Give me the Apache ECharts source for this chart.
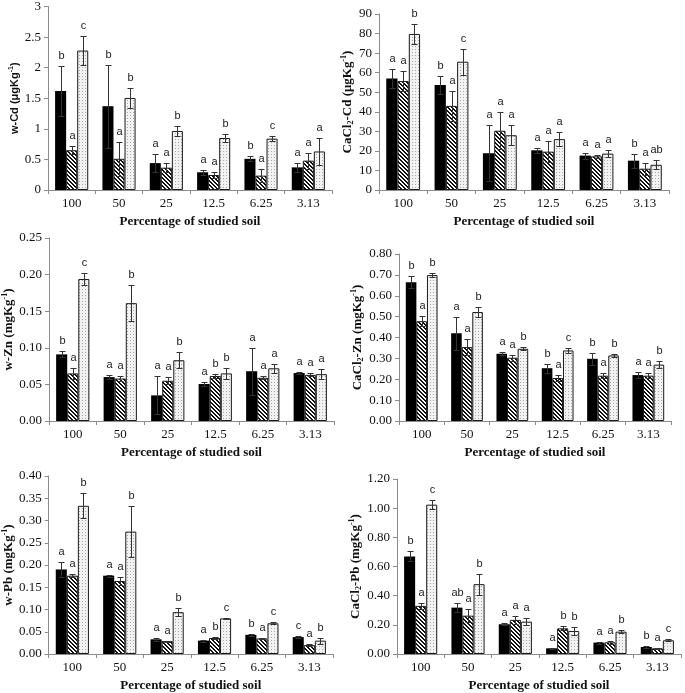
<!DOCTYPE html>
<html>
<head>
<meta charset="utf-8">
<script src="https://cdn.jsdelivr.net/npm/echarts@6/dist/echarts.min.js"></script>
<style>
html,body{margin:0;padding:0;background:#fff;}
#chart{width:685px;height:693px;}
</style>
</head>
<body>
<div id="chart"></div>
<script>
// ---------- DATA ----------
const categories = ['100', '50', '25', '12.5', '6.25', '3.13'];

// Panel 1: w-Cd (µg/kg)
const wCdA = [1.62, 1.37, 0.44, 0.29, 0.51, 0.37];
const wCdB = [0.65, 0.51, 0.365, 0.245, 0.235, 0.48];
const wCdC = [2.28, 1.505, 0.965, 0.85, 0.84, 0.63];
const wCdErrA = [0.41, 0.68, 0.15, 0.04, 0.04, 0.07];
const wCdErrB = [0.065, 0.28, 0.075, 0.05, 0.11, 0.13];
const wCdErrC = [0.23, 0.17, 0.08, 0.07, 0.045, 0.225];
const wCdLetA = ['b', 'b', 'a', 'a', 'b', 'a'];
const wCdLetB = ['a', 'a', 'a', 'a', 'a', 'a'];
const wCdLetC = ['c', 'b', 'b', 'b', 'c', 'a'];

// Panel 2: CaCl2-Cd (µg/kg)
const caCdA = [57.0, 53.7, 18.8, 20.3, 17.6, 15.0];
const caCdB = [55.7, 43.0, 30.3, 19.6, 17.2, 10.9];
const caCdC = [79.8, 65.6, 28.0, 26.0, 18.6, 12.9];
const caCdErrA = [4.8, 4.6, 14.2, 1.3, 1.5, 3.6];
const caCdErrB = [5.2, 7.8, 9.5, 5.4, 0.9, 3.0];
const caCdErrC = [5.3, 6.7, 5.0, 3.7, 1.7, 2.2];
const caCdLetA = ['a', 'b', 'a', 'a', 'a', 'b'];
const caCdLetB = ['a', 'a', 'a', 'a', 'a', 'a'];
const caCdLetC = ['b', 'c', 'a', 'a', 'a', 'ab'];

// Panel 3: w-Zn (mg/kg)
const wZnA = [0.091, 0.060, 0.035, 0.0505, 0.068, 0.0655];
const wZnB = [0.065, 0.058, 0.055, 0.0615, 0.059, 0.063];
const wZnC = [0.194, 0.161, 0.083, 0.065, 0.072, 0.064];
const wZnErrA = [0.004, 0.003, 0.026, 0.003, 0.032, 0.001];
const wZnErrB = [0.007, 0.003, 0.005, 0.003, 0.002, 0.002];
const wZnErrC = [0.008, 0.025, 0.011, 0.008, 0.0065, 0.007];
const wZnLetA = ['b', 'a', 'a', 'a', 'a', 'a'];
const wZnLetB = ['a', 'a', 'a', 'b', 'a', 'a'];
const wZnLetC = ['c', 'b', 'b', 'b', 'a', 'a'];

// Panel 4: CaCl2-Zn (mg/kg)
const caZnA = [0.665, 0.42, 0.322, 0.253, 0.298, 0.22];
const caZnB = [0.478, 0.354, 0.303, 0.206, 0.217, 0.217];
const caZnC = [0.699, 0.522, 0.346, 0.338, 0.314, 0.27];
const caZnErrA = [0.028, 0.08, 0.008, 0.021, 0.03, 0.015];
const caZnErrB = [0.025, 0.04, 0.014, 0.014, 0.013, 0.012];
const caZnErrC = [0.01, 0.026, 0.008, 0.011, 0.008, 0.016];
const caZnLetA = ['b', 'a', 'a', 'b', 'b', 'a'];
const caZnLetB = ['a', 'a', 'a', 'a', 'a', 'a'];
const caZnLetC = ['b', 'b', 'b', 'c', 'b', 'b'];

// Panel 5: w-Pb (mg/kg)
const wPbA = [0.19, 0.176, 0.033, 0.03, 0.043, 0.038];
const wPbB = [0.176, 0.164, 0.029, 0.036, 0.035, 0.02];
const wPbC = [0.333, 0.275, 0.094, 0.08, 0.069, 0.03];
const wPbErrA = [0.017, 0.002, 0.003, 0.002, 0.002, 0.002];
const wPbErrB = [0.003, 0.01, 0.001, 0.002, 0.002, 0.0015];
const wPbErrC = [0.028, 0.058, 0.009, 0.002, 0.002, 0.007];
const wPbLetA = ['a', 'a', 'a', 'a', 'b', 'c'];
const wPbLetB = ['a', 'a', 'a', 'b', 'a', 'a'];
const wPbLetC = ['b', 'b', 'b', 'c', 'c', 'b'];

// Panel 6: CaCl2-Pb (mg/kg)
const caPbA = [0.669, 0.318, 0.204, 0.039, 0.078, 0.048];
const caPbB = [0.33, 0.263, 0.234, 0.176, 0.08, 0.039];
const caPbC = [1.024, 0.479, 0.222, 0.158, 0.153, 0.094];
const caPbErrA = [0.034, 0.03, 0.006, 0.005, 0.007, 0.005];
const caPbErrB = [0.023, 0.044, 0.027, 0.014, 0.011, 0.003];
const caPbErrC = [0.03, 0.073, 0.025, 0.03, 0.012, 0.006];
const caPbLetA = ['b', 'ab', 'a', 'a', 'a', 'b'];
const caPbLetB = ['a', 'a', 'a', 'b', 'a', 'a'];
const caPbLetC = ['c', 'b', 'a', 'b', 'b', 'c'];

// Axis ranges / titles
const yMax = [3, 90, 0.25, 0.8, 0.4, 1.2];
const yStep = [0.5, 10, 0.05, 0.1, 0.05, 0.2];
const yDecimals = [-1, 0, 2, 2, 2, 2];
const yTitles = [
  '{ts|w-Cd (μgKg}{ss|-1}{ts|)}',
  '{t|CaCl}{b|2}{t|-Cd (μgKg}{s|-1}{t|)}',
  '{t|w-Zn (mgKg}{s|-1}{t|)}',
  '{t|CaCl}{b|2}{t|-Zn (mgKg}{s|-1}{t|)}',
  '{t|w-Pb (mgKg}{s|-1}{t|)}',
  '{t|CaCl}{b|2}{t|-Pb (mgKg}{s|-1}{t|)}'
];
const xTitle = 'Percentage of studied soil';

// ---------- PATTERNS ----------
function hatchPattern() {
  const c = document.createElement('canvas');
  c.width = 4; c.height = 4;
  const g = c.getContext('2d');
  g.fillStyle = '#ffffff'; g.fillRect(0, 0, 4, 4);
  g.fillStyle = '#111111';
  for (let i = 0; i < 4; i++) { g.fillRect(i, i, 1, 1); g.fillRect((i + 1) % 4, i, 1, 1); }
  return c;
}
function dotPattern() {
  const c = document.createElement('canvas');
  c.width = 3; c.height = 3;
  const g = c.getContext('2d');
  g.fillStyle = '#f2f2f2'; g.fillRect(0, 0, 3, 3);
  g.fillStyle = '#a8a8a8'; g.fillRect(1, 1, 1, 1);
  return c;
}
const hatchFill = { image: hatchPattern(), repeat: 'repeat' };
const dotFill = { image: dotPattern(), repeat: 'repeat' };

// ---------- LAYOUT ----------
const grids = [
  { left: 48, top: 4, width: 284, height: 186 },
  { left: 379, top: 14, width: 290, height: 176 },
  { left: 48, top: 238, width: 286, height: 183 },
  { left: 399, top: 254, width: 272, height: 167 },
  { left: 46, top: 476, width: 287, height: 178 },
  { left: 397, top: 479, width: 284, height: 175 }
];
const yNameGap = [26, 24, 33, 30, 30, 31];

const panels = [
  [[wCdA, wCdErrA, wCdLetA], [wCdB, wCdErrB, wCdLetB], [wCdC, wCdErrC, wCdLetC]],
  [[caCdA, caCdErrA, caCdLetA], [caCdB, caCdErrB, caCdLetB], [caCdC, caCdErrC, caCdLetC]],
  [[wZnA, wZnErrA, wZnLetA], [wZnB, wZnErrB, wZnLetB], [wZnC, wZnErrC, wZnLetC]],
  [[caZnA, caZnErrA, caZnLetA], [caZnB, caZnErrB, caZnLetB], [caZnC, caZnErrC, caZnLetC]],
  [[wPbA, wPbErrA, wPbLetA], [wPbB, wPbErrB, wPbLetB], [wPbC, wPbErrC, wPbLetC]],
  [[caPbA, caPbErrA, caPbLetA], [caPbB, caPbErrB, caPbLetB], [caPbC, caPbErrC, caPbLetC]]
];

const serif = '"Liberation Serif", "Times New Roman", serif';
const sans = '"Liberation Sans", Arial, sans-serif';
const GAP = 0.3;
const axisGrey = '#8c8c8c';

const xAxes = [], yAxes = [], series = [];
const barStyles = [
  { color: '#000000', borderColor: '#000000', borderWidth: 0 },
  { color: hatchFill, borderColor: '#1a1a1a', borderWidth: 1 },
  { color: dotFill, borderColor: '#1a1a1a', borderWidth: 1 }
];

panels.forEach((panel, p) => {
  xAxes.push({
    type: 'category', gridIndex: p, data: categories,
    axisLine: { lineStyle: { color: axisGrey, width: 1 } },
    axisTick: { show: true, length: 4, lineStyle: { color: axisGrey } },
    axisLabel: { fontFamily: serif, fontSize: 13, color: '#111', margin: 7 },
    name: xTitle, nameLocation: 'middle', nameGap: 25,
    nameTextStyle: { fontFamily: serif, fontWeight: 'bold', fontSize: 13, color: '#111' }
  });
  const dec = yDecimals[p];
  yAxes.push({
    type: 'value', gridIndex: p, min: 0, max: yMax[p], interval: yStep[p],
    splitLine: { show: false },
    axisLine: { show: true, lineStyle: { color: axisGrey, width: 1 } },
    axisTick: { show: true, length: 4, lineStyle: { color: axisGrey } },
    axisLabel: {
      fontFamily: serif, fontSize: 13, color: '#111', margin: 7,
      formatter: v => dec < 0 ? String(+v.toFixed(2)) : v.toFixed(dec)
    },
    name: yTitles[p], nameLocation: 'middle', nameGap: yNameGap[p],
    nameTextStyle: {
      rich: {
        t: { fontFamily: serif, fontWeight: 'bold', fontSize: 13, color: '#111', lineHeight: 15 },
        s: { fontFamily: serif, fontWeight: 'bold', fontSize: 8, color: '#111', verticalAlign: 'top', lineHeight: 15 },
        b: { fontFamily: serif, fontWeight: 'bold', fontSize: 8, color: '#111', verticalAlign: 'bottom', lineHeight: 12 },
        ts: { fontFamily: sans, fontWeight: 'bold', fontSize: 11, color: '#111', lineHeight: 14 },
        ss: { fontFamily: sans, fontWeight: 'bold', fontSize: 7, color: '#111', verticalAlign: 'top', lineHeight: 14 }
      }
    }
  });
  panel.forEach((s, k) => {
    const vals = s[0], errs = s[1], lets = s[2];
    series.push({
      type: 'bar', xAxisIndex: p, yAxisIndex: p, data: vals,
      barGap: '0%', barCategoryGap: (GAP * 100) + '%',
      itemStyle: barStyles[k], silent: true, animation: false
    });
    series.push({
      type: 'custom', xAxisIndex: p, yAxisIndex: p, z: 10, silent: true, animation: false,
      data: vals.map((v, i) => [i, v, errs[i]]),
      renderItem: (params, api) => {
        const i = api.value(0), v = api.value(1), e = api.value(2);
        const band = api.size([1, 0])[0];
        const bw = band * (1 - GAP) / 3;
        const c = api.coord([i, v]);
        const x = Math.round(c[0] + (k - 1) * bw) + 0.5;
        const yTop = Math.round(api.coord([i, v + e])[1]) + 0.5;
        const yBot = Math.round(api.coord([i, Math.max(v - e, 0)])[1]) + 0.5;
        const st = { stroke: '#333', lineWidth: 1 };
        return {
          type: 'group', children: [
            { type: 'line', shape: { x1: x, y1: yTop, x2: x, y2: yBot }, style: st },
            { type: 'line', shape: { x1: x - 3, y1: yTop, x2: x + 3, y2: yTop }, style: st },
            { type: 'line', shape: { x1: x - 3, y1: yBot, x2: x + 3, y2: yBot }, style: st },
            { type: 'text', style: { text: lets[params.dataIndex], x: x, y: yTop - 11, align: 'center', verticalAlign: 'middle', font: '11px ' + sans, fill: '#222' } }
          ]
        };
      }
    });
  });
});

const chart = echarts.init(document.getElementById('chart'), null, { renderer: 'canvas' });
chart.setOption({
  backgroundColor: '#ffffff',
  animation: false,
  grid: grids,
  xAxis: xAxes,
  yAxis: yAxes,
  series: series
});
</script>
</body>
</html>
